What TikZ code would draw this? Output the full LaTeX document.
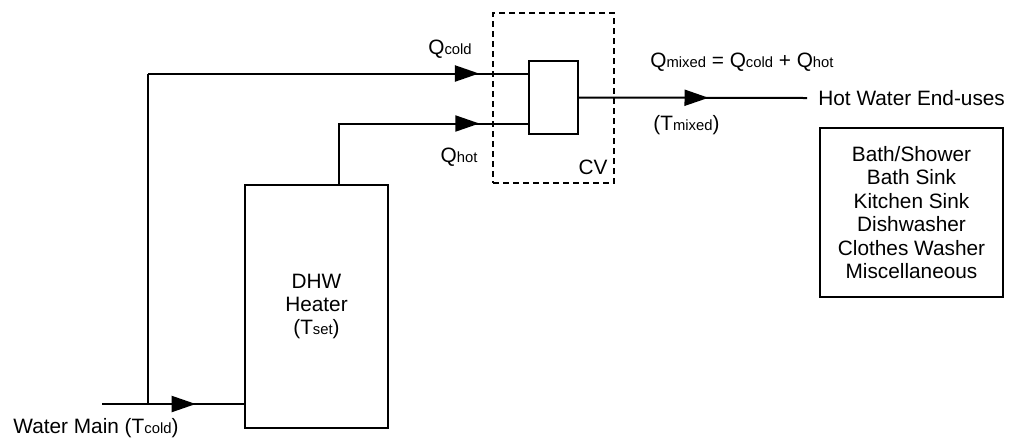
\documentclass[tikz,border=0pt]{standalone}
\usepackage{fontspec}
\setmainfont{Liberation Sans}
\usetikzlibrary{arrows.meta,decorations.markings}
\newcommand{\subtxt}[1]{{\fontsize{7.4}{7.4}\selectfont #1}}
\tikzset{
  unit/.style={draw, line width=1pt, inner sep=0pt, align=center, font=\fontsize{10.4}{11.7}\selectfont},
  pipe/.style={line width=1pt},
  flowmark/.style={pipe, postaction={decorate}, decoration={markings, mark=at position #1 with {\arrow{Triangle[length=12pt,width=8pt]}}}},
  cvbox/.style={draw, dashed, dash pattern=on 3pt off 2pt, line width=0.8pt, inner sep=0pt},
  lbl/.style={font=\fontsize{10.4}{11.7}\selectfont, inner sep=0pt}
}

\begin{document}
\begin{tikzpicture}[x=0.5pt, y=-0.5pt]
  \useasboundingbox (0,0) rectangle (1012,441);
  % units
  \node[unit, minimum width=71.5pt, minimum height=121.5pt] (heater) at (316.5,306.5) {DHW\\Heater\\(T\subtxt{set})};
  \node[unit, minimum width=24.5pt, minimum height=36.5pt] (valve) at (553.5,97.5) {};
  \node[cvbox, minimum width=60.5pt, minimum height=85pt] (cv) at (553.5,98) {};
  \node[unit, minimum width=91.5pt, minimum height=84.5pt] (uses) at (911.5,212.5)
    {Bath/Shower\\Bath Sink\\Kitchen Sink\\Dishwasher\\Clothes Washer\\Miscellaneous};

  % pipe ends
  \coordinate (wmain) at (102,404);
  \coordinate (tee) at (148,404);
  \coordinate (coldin) at ([yshift=12pt]valve.west);
  \coordinate (hotin) at ([yshift=-13pt]valve.west);
  \coordinate (hotout) at ([xshift=11.25pt]heater.north);
  \coordinate (enduse) at (807,98);

  % pipes
  \draw[flowmark=0.66] (wmain) -- (heater.west |- wmain);
  \draw[pipe] (tee) -- (tee |- coldin);
  \draw[flowmark=0.871] (tee |- coldin) -- (coldin);
  \draw[flowmark=0.805] (hotout) |- (hotin);
  \draw[flowmark=0.568] (valve.east) -- (enduse);

  % labels
  \node[lbl] (qcold) at (450,49) {Q\subtxt{cold}};
  \node[lbl] (qhot) at (459,157) {Q\subtxt{hot}};
  \node[lbl] (cvlbl) at (593,167) {CV};
  \node[lbl, anchor=west] (qmixed) at (650,62) {Q\subtxt{mixed} = Q\subtxt{cold} + Q\subtxt{hot}};
  \node[lbl, anchor=west] (tmixed) at (653,125) {(T\subtxt{mixed})};
  \node[lbl, anchor=west] (hotlbl) at ([xshift=5.5pt]enduse) {Hot Water End-uses};
  \node[lbl, anchor=west] (mainlbl) at (13,428) {Water Main (T\subtxt{cold})};
\end{tikzpicture}
\end{document}
